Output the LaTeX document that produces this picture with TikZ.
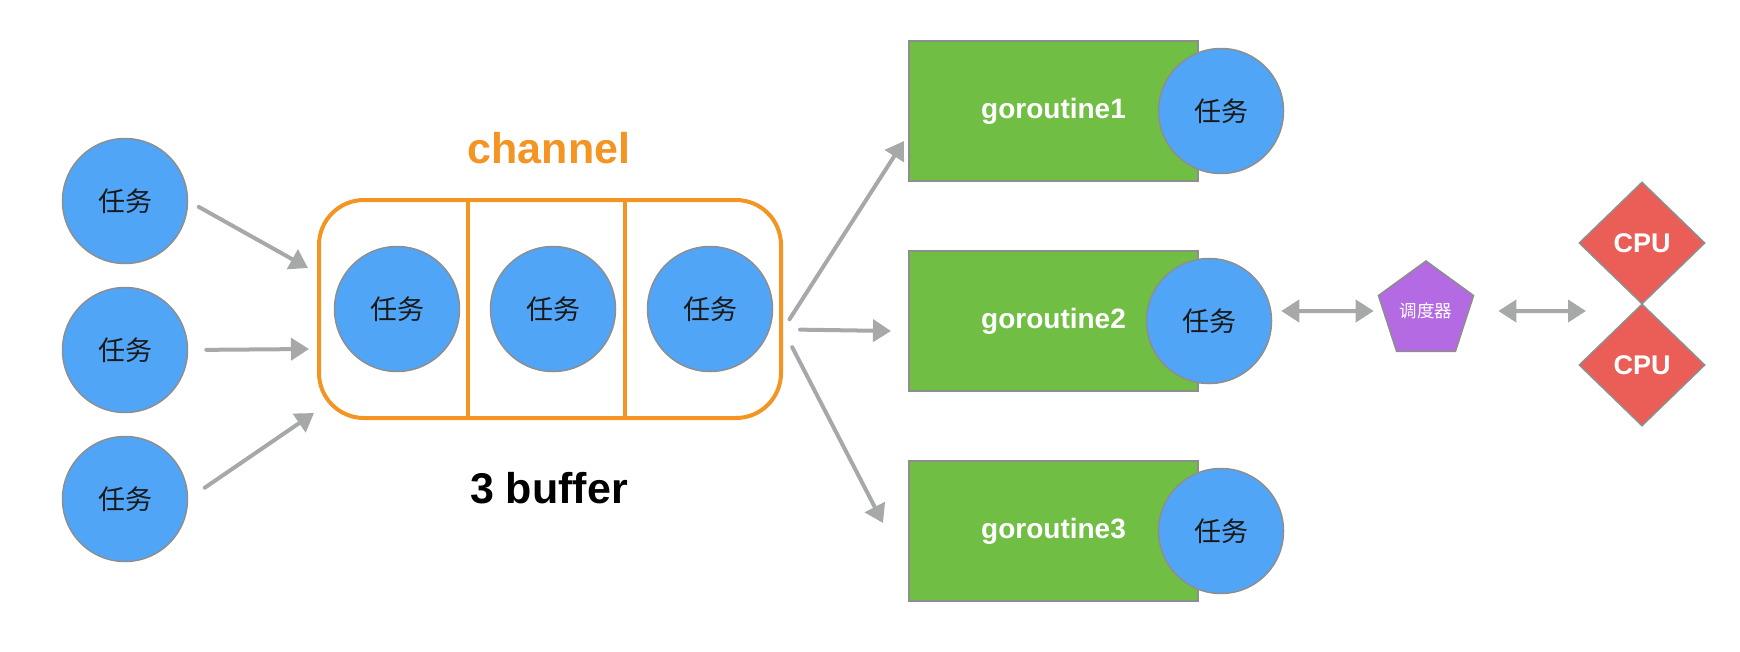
\documentclass[tikz,border=0pt]{standalone}
\usepackage{fontspec}
\setmainfont{Liberation Sans}
\newfontfamily\cjk{Noto Sans CJK SC}
\usepackage{tikz}
\usetikzlibrary{arrows.meta, shapes.geometric}

\definecolor{taskblue}{RGB}{80,165,247}
\definecolor{gogreen}{RGB}{112,191,68}
\definecolor{chanorange}{RGB}{244,148,34}
\definecolor{cpured}{RGB}{235,94,88}
\definecolor{schedpurple}{RGB}{179,106,226}
\definecolor{arrowgrey}{RGB}{166,169,168}
\definecolor{edgegrey}{RGB}{142,142,142}

\tikzset{
	task/.style = {circle, draw = edgegrey, line width = 1.5pt, fill = taskblue, minimum size = 125pt, inner sep = 0pt, text = black!90, font = \cjk\fontsize{27}{30}\selectfont},
	worker/.style = {rectangle, draw = edgegrey, line width = 1.5pt, fill = gogreen, minimum width = 289pt, minimum height = 140pt, inner sep = 0pt, text = white, font = \bfseries\fontsize{28}{32}\selectfont},
	cpu/.style = {diamond, draw = edgegrey, line width = 1.5pt, fill = cpured, minimum width = 126pt, minimum height = 122pt, inner sep = 0pt, text = white, font = \bfseries\fontsize{27}{30}\selectfont},
	chanbox/.style = {rectangle, draw = chanorange, line width = 4pt, rounded corners = 45pt, minimum width = 462pt, minimum height = 218pt},
	flow/.style = {draw = arrowgrey, line width = 4pt, line cap = round, -{Triangle[length = 18pt, width = 22pt]}},
	dflow/.style = {draw = arrowgrey, line width = 4pt, {Triangle[length = 18pt, width = 22pt]}-{Triangle[length = 18pt, width = 22pt]}},
}

\begin{document}
\begin{tikzpicture}[x = 1pt, y = -1pt]
		\useasboundingbox (0,0) rectangle (1740,651);

		% incoming tasks
		\node [task] (t1) at (125,201) {任务};
		\node [task] (t2) at (125,350) {任务};
		\node [task] (t3) at (125,499) {任务};

		% channel with 3 slots
		\node [chanbox] (chan) at (550,309) {};
		\foreach \x in {468,625}
			\draw [chanorange, line width = 4pt] (\x,200) -- (\x,418);
		\node [task] (b1) at (397,309) {任务};
		\node [task] (b2) at (553,309) {任务};
		\node [task] (b3) at (710,309) {任务};
		\node [anchor = base, text = chanorange, font = \bfseries\fontsize{43}{50}\selectfont] (chanlabel) at (549,163) {channel};
		\node [anchor = base, font = \bfseries\fontsize{43}{50}\selectfont] (buflabel) at (549,503) {3 buffer};

		\coordinate (in1) at (308,268);
		\coordinate (in2) at (309,349);
		\coordinate (in3) at (314,413);
		\draw [flow, shorten <= 12pt] (t1.east) -- (in1);
		\draw [flow, shorten <= 18pt] (t2.east) -- (in2);
		\draw [flow, shorten <= 20pt] (t3.east) -- (in3);

		% goroutines
		\node [worker] (g1) at (1053.5,111) {goroutine1};
		\node [worker] (g2) at (1053.5,321) {goroutine2};
		\node [worker] (g3) at (1053.5,531) {goroutine3};
		\node [task] (k1) at (1221,111) {任务};
		\node [task] (k2) at (1209,321) {任务};
		\node [task] (k3) at (1221,531) {任务};

		\coordinate (o1) at (904,141);
		\coordinate (o2) at (891,331);
		\coordinate (o3) at (883,523);
		\draw [flow, shorten <= 12pt] (chan.-5) -- (o1);
		\draw [flow, shorten <= 17pt] (chan.-5) -- (o2);
		\draw [flow, shorten <= 20pt] (chan.-5) -- (o3);

		% scheduler and cpus
		\node [regular polygon, regular polygon sides = 5, minimum size = 100pt, inner sep = 0pt, fill = schedpurple, draw = edgegrey, line width = 1.5pt, text = white, font = \cjk\fontsize{17.5}{20}\selectfont] (sched) at (1426,311) {调度器};
		\node [cpu] (cpu1) at (1642,243) {CPU};
		\node [cpu] (cpu2) at (1642,365) {CPU};

		\draw [dflow, shorten <= 9pt, shorten >= 9pt] (k2.east |- sched) -- (sched);
		\draw [dflow, shorten <= 29pt, shorten >= 56pt] (sched) -- (sched -| cpu1.south);
	\end{tikzpicture}
\end{document}
